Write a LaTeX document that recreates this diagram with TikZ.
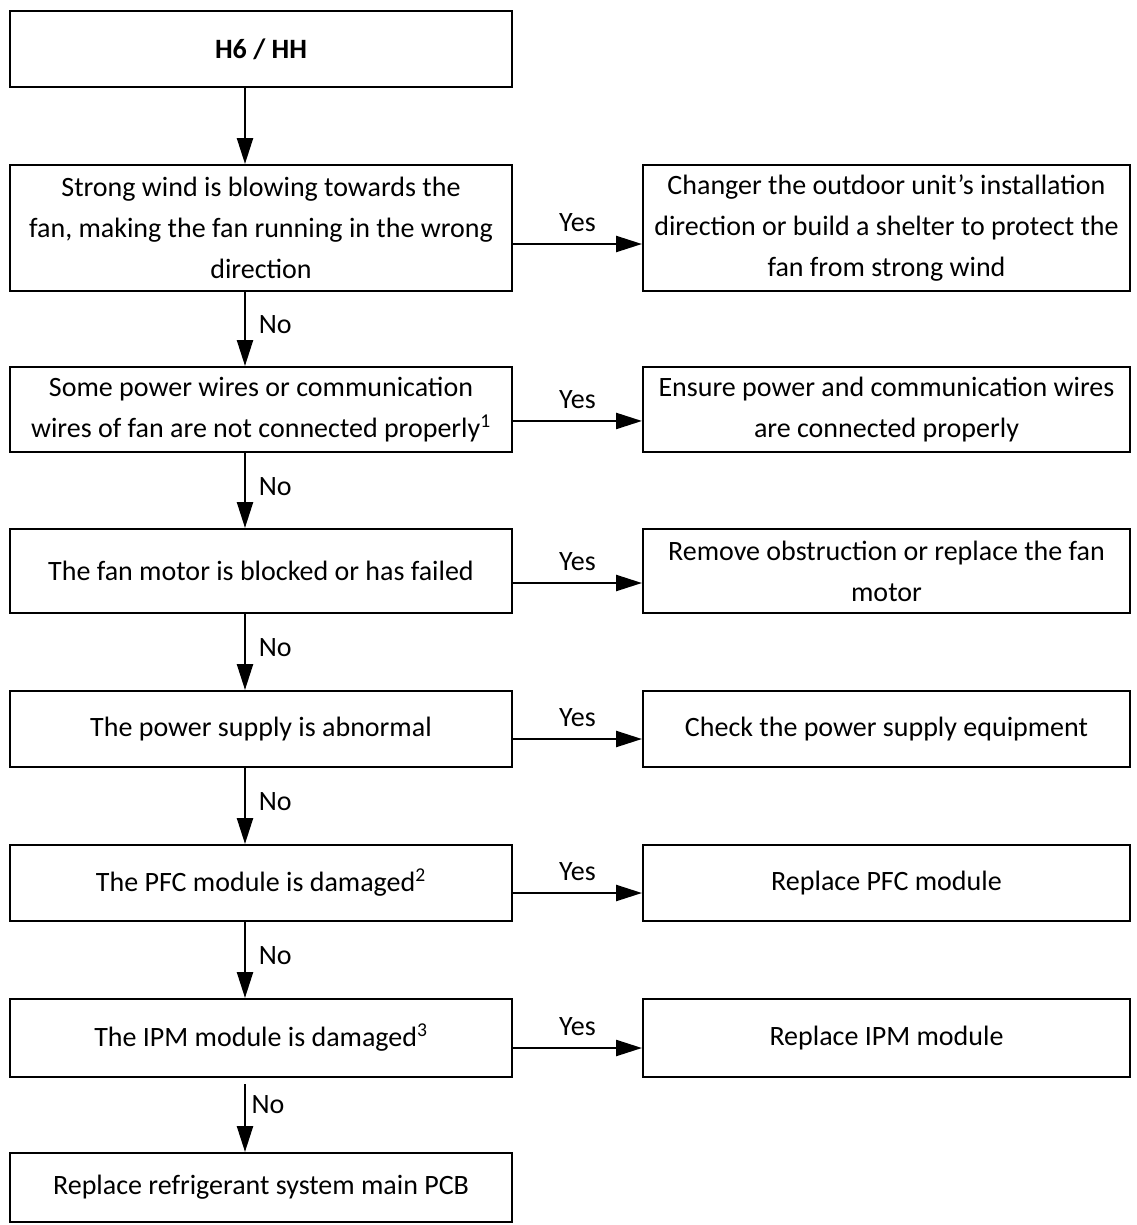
\documentclass[tikz,border=0pt]{standalone}
\usepackage{fontspec}
\setmainfont{Carlito}
\usetikzlibrary{arrows.meta}
\begin{document}
\begin{tikzpicture}[x=0.75pt,y=-0.75pt,
  box/.style={draw,line width=1.5pt,align=center,inner sep=0pt,font={\fontsize{21}{30.75}\selectfont}},
  lbox/.style={box,minimum width=376.5pt},
  rbox/.style={box,minimum width=365.25pt},
  arr/.style={line width=1.8pt,-{Triangle[length=19.5pt,width=12pt]}},
  lbl/.style={font={\fontsize{21}{25}\selectfont},inner sep=0pt}]
\useasboundingbox (0,0) rectangle (1137,1225);
% left column
\node[lbox,minimum height=57pt,font={\fontsize{21}{30.75}\selectfont\bfseries}] (top) at (261,49) {H6 / HH};
\node[lbox,minimum height=94.5pt] (b2) at (261,228) {Strong wind is blowing towards the\\fan, making the fan running in the wrong\\direction};
\node[lbox,minimum height=63.75pt] (b3) at (261,409.5) {Some power wires or communication\\wires of fan are not connected properly\textsuperscript{1}};
\node[lbox,minimum height=63pt] (b4) at (261,571) {The fan motor is blocked or has failed};
\node[lbox,minimum height=57pt] (b5) at (261,729) {The power supply is abnormal};
\node[lbox,minimum height=57pt] (b6) at (261,883) {The PFC module is damaged\textsuperscript{2}};
\node[lbox,minimum height=58.5pt] (b7) at (261,1038) {The IPM module is damaged\textsuperscript{3}};
\node[lbox,minimum height=51.75pt] (b8) at (261,1187.5) {Replace refrigerant system main PCB};
% right column
\node[rbox,minimum height=94.5pt] (r2) at (886.5,228) {Changer the outdoor unit’s installation\\direction or build a shelter to protect the\\fan from strong wind};
\node[rbox,minimum height=63.75pt] (r3) at (886.5,409.5) {Ensure power and communication wires\\are connected properly};
\node[rbox,minimum height=63pt] (r4) at (886.5,571) {Remove obstruction or replace the fan\\motor};
\node[rbox,minimum height=57pt] (r5) at (886.5,729) {Check the power supply equipment};
\node[rbox,minimum height=57pt] (r6) at (886.5,883) {Replace PFC module};
\node[rbox,minimum height=58.5pt] (r7) at (886.5,1038) {Replace IPM module};
% vertical arrows
\draw[arr] ([xshift=-12pt]top.south) -- ([xshift=-12pt]b2.north);
\draw[arr] ([xshift=-12pt]b2.south) -- node[lbl,right=9.5pt,yshift=3pt]{No} ([xshift=-12pt]b3.north);
\draw[arr] ([xshift=-12pt]b3.south) -- node[lbl,right=9.5pt,yshift=3pt]{No} ([xshift=-12pt]b4.north);
\draw[arr] ([xshift=-12pt]b4.south) -- node[lbl,right=9.5pt,yshift=3pt]{No} ([xshift=-12pt]b5.north);
\draw[arr] ([xshift=-12pt]b5.south) -- node[lbl,right=9.5pt,yshift=3pt]{No} ([xshift=-12pt]b6.north);
\draw[arr] ([xshift=-12pt]b6.south) -- node[lbl,right=9.5pt,yshift=3pt]{No} ([xshift=-12pt]b7.north);
\draw[arr] ([xshift=-12pt,yshift=-4.5pt]b7.south) -- node[lbl,right=4pt,yshift=10pt]{No} ([xshift=-12pt]b8.north);
% horizontal arrows
\draw[arr] ([yshift=-12pt]b2.east) -- node[lbl,above=8pt]{Yes} ([yshift=-12pt]r2.west);
\draw[arr] ([yshift=-8.6pt]b3.east) -- node[lbl,above=8pt]{Yes} ([yshift=-8.6pt]r3.west);
\draw[arr] ([yshift=-9pt]b4.east) -- node[lbl,above=8pt]{Yes} ([yshift=-9pt]r4.west);
\draw[arr] ([yshift=-7.5pt]b5.east) -- node[lbl,above=8pt]{Yes} ([yshift=-7.5pt]r5.west);
\draw[arr] ([yshift=-7.5pt]b6.east) -- node[lbl,above=8pt]{Yes} ([yshift=-7.5pt]r6.west);
\draw[arr] ([yshift=-7.5pt]b7.east) -- node[lbl,above=8pt]{Yes} ([yshift=-7.5pt]r7.west);
\end{tikzpicture}
\end{document}
